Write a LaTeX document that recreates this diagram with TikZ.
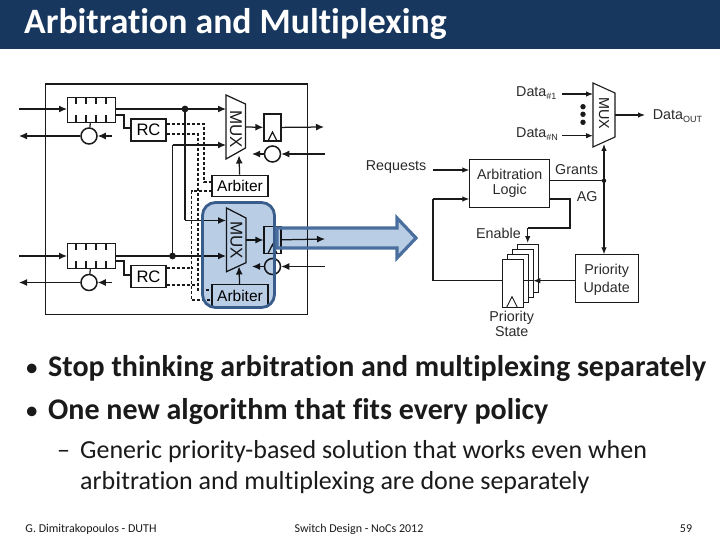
\documentclass[tikz,border=0pt]{standalone}
\usepackage{fontspec}
\setmainfont{Carlito}[Ligatures=NoCommon]
\newfontfamily\figfont{Liberation Sans}
\usepackage{xcolor}
\usetikzlibrary{arrows.meta,positioning,fit}
\definecolor{band}{HTML}{17375E}
\definecolor{ink}{HTML}{1A1A1A}
\definecolor{soft}{HTML}{2B2B2B}
\definecolor{pale}{HTML}{B9CDE5}
\definecolor{edge}{HTML}{385D8A}
\definecolor{edgeb}{HTML}{4A6F9E}
\newcommand{\sub}[1]{\raisebox{-3pt}{\fontsize{9}{9}\selectfont #1}}
\begin{document}
\begin{tikzpicture}[
  x=1pt,y=-1pt,
  box/.style={draw=ink,line width=1.25pt,fill=white,inner sep=0pt,align=center,font=\figfont},
  fifobox/.style={box,minimum width=48pt,minimum height=25pt,anchor=north west},
  rcbox/.style={box,minimum width=35pt,minimum height=22pt,font=\figfont\fontsize{16.6}{17}\selectfont},
  arbbox/.style={box,minimum width=56pt,minimum height=21.5pt,font=\figfont\fontsize{15.5}{16}\selectfont},
  regbox/.style={box,minimum width=17pt,minimum height=27pt},
  logicbox/.style={box,line width=1.1pt,text=soft,font=\figfont\fontsize{14.3}{14.8}\selectfont},
  statebox/.style={box,line width=.9pt,minimum width=21pt,minimum height=48pt,anchor=north west},
  flow/.style={draw=ink,line width=1.25pt,-{Latex[length=8pt,width=7pt]}},
  thinflow/.style={draw=ink,line width=1.1pt,-{Latex[length=7pt,width=5.5pt]}},
  wire/.style={draw=ink,line width=1.25pt},
  dashwire/.style={draw=ink,line width=1.1pt,dash pattern=on 3pt off 2pt},
  ring/.style={circle,draw=ink,line width=1.5pt,fill=white,minimum size=16pt,inner sep=0pt},
  muxtext/.style={rotate=-90,inner sep=0pt,text=ink,font=\figfont\fontsize{17}{17}\selectfont},
  label/.style={inner sep=0pt,anchor=base west,text=soft,font=\figfont\fontsize{14.3}{15}\selectfont},
  bullet/.style={inner sep=0pt,anchor=base west,font=\fontsize{27}{27}\selectfont,text=ink},
  bulleted/.style={inner sep=0pt,anchor=base west,font=\bfseries\fontsize{30}{30}\selectfont,text=ink},
  subitem/.style={inner sep=0pt,anchor=base west,font=\fontsize{26}{26}\selectfont,text=ink},
  foot/.style={inner sep=0pt,anchor=base,font=\fontsize{12}{12}\selectfont,text=ink}
]
\useasboundingbox (0,0) rectangle (720,540);
\fill[white] (0,0) rectangle (720,540);
\node[fill=band,minimum width=720pt,minimum height=48.7pt,inner sep=0pt,anchor=north west] (title) at (0,0) {};
\node[inner sep=0pt,anchor=base west,text=white,font=\bfseries\fontsize{35.7}{36}\selectfont] (heading) at (24,33.5) {Arbitration and Multiplexing};

% router frame
\node[draw=ink,line width=1.25pt,minimum width=262pt,minimum height=230pt,anchor=north west,inner sep=0pt] (router) at (45,83.5) {};

% upper input
\node[fifobox] (fifoA) at (67,97) {};
\foreach \x in {76,86,96,106} \draw[wire] (\x,97) -- +(0,7) (\x,122) -- +(0,-7);
\node[ring] (reqA) at (89,136) {};
\node[rcbox] (rcA) at (148.5,130) {RC};
\coordinate (inA) at (19,109);
\coordinate (backA) at (19,136);
\coordinate (ctlA) at (112,136);
\draw[wire] (fifoA) -- (reqA);
\draw[flow] (inA) -- (fifoA.west |- inA);
\draw[flow] (reqA) -- (backA);
\draw[flow] (ctlA) -- (reqA);
\draw[wire] (fifoA.east |- 0,115) -| (124,128) -- (rcA.west |- 0,128);

% lower input
\node[fifobox] (fifoB) at (67,243) {};
\foreach \x in {76,86,96,106} \draw[wire] (\x,243) -- +(0,7) (\x,268) -- +(0,-7);
\node[ring] (reqB) at (89,282.5) {};
\node[rcbox] (rcB) at (148.5,276.5) {RC};
\coordinate (inB) at (19,256);
\coordinate (backB) at (19,282.5);
\coordinate (ctlB) at (112,282.5);
\draw[wire] (fifoB) -- (reqB);
\draw[flow] (inB) -- (fifoB.west |- inB);
\draw[flow] (reqB) -- (backB);
\draw[flow] (ctlB) -- (reqB);
\draw[wire] (fifoB.east |- 0,261) -| (124,275) -- (rcB.west |- 0,275);

% dashed request lines
\draw[dashwire] (rcA.east |- 0,124) -| (204,182) -- (212,182);
\draw[dashwire] (rcA.east |- 0,134) -| (198,290) -- (212,290);
\draw[dashwire] (212,191) -| (191.7,300) -- (212,300);
\draw[dashwire] (rcB.east |- 0,268) -- (191.7,268);
\draw[dashwire] (rcB.east |- 0,285) -- (198,285);

% output blocks
\draw[box] (226,95) -- (245.5,104) -- (245.5,148) -- (226,159) -- cycle;
\coordinate (muxAout) at (245.5,127);
\coordinate (muxActl) at (239,155.5);
\node[muxtext] (muxAtext) at (236,129) {MUX};
\node[arbbox] (arbA) at (240,186) {Arbiter};
\node[regbox] (regA) at (272.5,127.5) {};
\draw[wire] (268,141) -- (272.5,132) -- (277,141);
\node[ring] (ringA) at (272.5,154) {};

\draw[box] (226.5,208) -- (246,218) -- (246,262.7) -- (226.5,271.7) -- cycle;
\coordinate (muxBout) at (246,240);
\coordinate (muxBctl) at (239,266.5);
\node[muxtext] (muxBtext) at (236.5,240) {MUX};
\node[arbbox] (arbB) at (240,295.5) {Arbiter};
\node[regbox] (regB) at (272.5,240) {};
\draw[wire] (268,253.5) -- (272.5,244.5) -- (277,253.5);
\node[ring] (ringB) at (272.5,266.5) {};

% wiring between inputs and outputs
\coordinate (branchA) at (185,109);
\coordinate (branchB) at (172.5,256);
\coordinate (turnA) at (185,220.5);
\coordinate (turnB) at (172.5,145);
\draw[flow] (fifoA.east |- branchA) -- (226,109);
\draw[flow] (fifoB.east |- branchB) -- (226,256);
\draw[wire] (branchA) -- (turnA);
\draw[flow] (turnA) -- (226,220.5);
\draw[wire] (branchB) -- (turnB);
\draw[flow] (turnB) -- (226,145);
\fill[ink] (branchA) circle (3.4pt);
\fill[ink] (branchB) circle (3.4pt);
\draw[flow] (arbA) -- (muxActl);
\draw[flow] (arbB) -- (muxBctl);
\draw[flow] (muxAout) -- (regA);
\draw[flow] (muxBout) -- (regB);
\coordinate (outA) at (324,127);
\coordinate (outB) at (325,239);
\coordinate (linkA) at (325,154);
\coordinate (linkB) at (325,266.5);
\draw[flow] (regA) -- (outA);
\draw[flow] (regB) -- (outB);
\draw[flow] (linkA) -- (ringA);
\draw[flow] (linkB) -- (ringB);
\draw[flow] (ringA) -- (252,154);
\draw[flow] (ringB) -- (252,266.5);

% highlighted output
\begin{scope}[blend mode=multiply]
\node[fill=pale,rounded corners=13pt,minimum width=72pt,minimum height=105pt,inner sep=0pt] (focus) at (238.5,255) {};
\fill[pale] (277,228) -- (397,228) -- (397,218) -- (416,238) -- (397,258) -- (397,248) -- (277,248) -- cycle;
\end{scope}
\node[draw=edge,line width=2.8pt,rounded corners=13pt,minimum width=72pt,minimum height=105pt,inner sep=0pt] (focusrim) at (238.5,255) {};
\draw[draw=edgeb,line width=3.2pt] (277,228) -- (397,228) -- (397,218) -- (416,238) -- (397,258) -- (397,248) -- (277,248) -- cycle;

% arbitration logic
\draw[box,line width=1.1pt] (593,83) -- (615,93) -- (615,137) -- (593,147) -- cycle;
\coordinate (dataOneIn) at (593,94);
\coordinate (dataNIn) at (593,135.7);
\coordinate (muxCout) at (615,115);
\coordinate (muxCctl) at (604,144);
\node[muxtext,font=\figfont\fontsize{14.4}{15}\selectfont] (muxC) at (604,113.5) {MUX};
\node[label] (dataOne) at (516,96.5) {Data\sub{\#1}};
\node[label] (dataN) at (516,138) {Data\sub{\#N}};
\node[label] (dataOut) at (652.7,120) {Data\sub{OUT}};
\coordinate (dataOneEnd) at (562,94);
\coordinate (dataNEnd) at (562,135.7);
\coordinate (dataOutEnd) at (645,115);
\draw[thinflow] (dataOneEnd) -- (dataOneIn);
\draw[thinflow] (dataNEnd) -- (dataNIn);
\draw[thinflow] (muxCout) -- (dataOutEnd);
\foreach \y in {106.7,114.3,122.3} \fill[ink] (583,\y) circle (2.7pt);
\node[logicbox,minimum width=79.7pt,minimum height=47.4pt,anchor=north west] (logic) at (469.3,159.3) {Arbitration\\Logic};
\node[label] (requests) at (365.7,170.5) {Requests};
\node[label] (grants) at (555,175) {Grants};
\node[label] (ag) at (576.7,201.7) {AG};
\node[label] (enable) at (476,238) {Enable};
\coordinate (reqEnd) at (433,170);
\draw[thinflow] (reqEnd) -- (logic.west |- reqEnd);
\node[logicbox,minimum width=63.3pt,minimum height=47.4pt,anchor=north west] (update) at (575,254.3) {};
\node[label,anchor=center,align=center,font=\figfont\fontsize{14.3}{18}\selectfont] (updateText) at (606.7,279.5) {Priority\\Update};
\coordinate (grantDot) at (604,180.7);
\draw[wire,line width=1.1pt] (logic.east |- grantDot) -- (grantDot);
\fill[ink] (grantDot) circle (2.2pt);
\draw[thinflow] (grantDot) -- (muxCctl);
\draw[thinflow] (grantDot) -- (update.north -| grantDot);

% priority state stack
\node[statebox] (stateD) at (517.3,244) {};
\node[statebox] (stateC) at (512,249.3) {};
\node[statebox] (stateB) at (506.7,254.3) {};
\node[statebox] (stateA) at (501.7,259.3) {};
\draw[wire,line width=.9pt] (506.7,307.3) -- (512,296.7) -- (517.3,307.3);
\node[label,anchor=north,align=center,font=\figfont\fontsize{14.3}{15}\selectfont] (stateText) at (511.7,311) {Priority\\State};
\coordinate (loopLow) at (433,280.7);
\coordinate (loopHigh) at (433,199);
\coordinate (agTurn) at (570,228);
\coordinate (enTurn) at (527.7,228);
\draw[wire,line width=1.1pt] (stateA.east |- loopLow) -- (533.3,280.7);
\draw[thinflow] (update.west |- loopLow) -- (533.3,280.7);
\draw[wire,line width=1.1pt] (stateA.west |- loopLow) -- (loopLow) -- (loopHigh);
\draw[thinflow] (loopHigh) -- (logic.west |- loopHigh);
\draw[wire,line width=1.1pt] (logic.east |- loopHigh) -| (agTurn) -- (enTurn);
\draw[thinflow] (enTurn) -- (527.7,243);

% bullets
\node[bullet] (itemA) at (25,376) {•};
\node[bulleted] (textA) at (48,376) {Stop thinking arbitration and multiplexing separately};
\node[bullet] (itemB) at (25,419) {•};
\node[bulleted] (textB) at (48,419) {One new algorithm that fits every policy};
\node[subitem] (dash) at (57,458) {–};
\node[subitem] (subA) at (80,458) {Generic priority-based solution that works even when};
\node[subitem] (subB) at (80,489) {arbitration and multiplexing are done separately};
\node[foot] (footL) at (91,532) {G. Dimitrakopoulos - DUTH};
\node[foot] (footM) at (359,532) {Switch Design - NoCs 2012};
\node[foot] (footR) at (686,532) {59};
\end{tikzpicture}
\end{document}
